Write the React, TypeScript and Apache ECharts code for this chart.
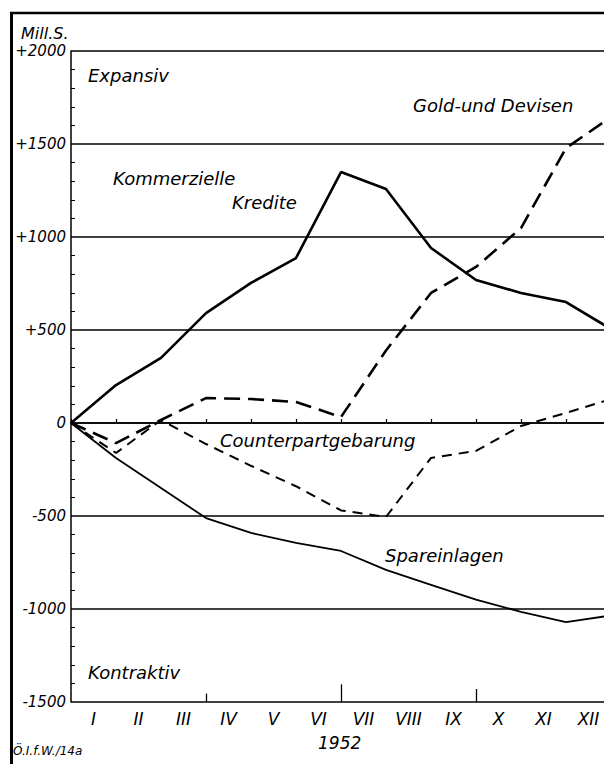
import React, { useEffect, useRef } from "react";
import * as echarts from "echarts";

const monthLabels = ["I", "II", "III", "IV", "V", "VI", "VII", "VIII", "IX", "X", "XI", "XII"];
const monthEnds = [0, 1, 2, 3, 4, 5, 6, 7, 8, 9, 10, 11, 12];
const kommerzielleKredite = [0, 204, 350, 591, 753, 887, 1349, 1258, 941, 769, 699, 650, 505];
const goldUndDevisen = [0, -108, 16, 134, 129, 113, 32, 390, 699, 839, 1048, 1478, 1645];
const counterpart = [0, -161, 16, -113, -230, -340, -470, -505, -188, -150, -16, 54, 129];
const spareinlagen = [0, -188, -350, -511, -591, -645, -688, -790, -870, -950, -1015, -1070, -1035];
const quarterTicks = [3, 6, 9];
const quarterTickHeights = [45, 95, 70];

const FONT = "DejaVu Sans";

function pairs(vals: number[]) {
  return vals.map((v, i) => [monthEnds[i], v]);
}

export default function App() {
  const ref = useRef<HTMLDivElement>(null);
  useEffect(() => {
    document.body.style.margin = "0";
    if (!ref.current) return;
    const chart = echarts.init(ref.current, null, { renderer: "svg" });
    const txt = (text: string, x: number, y: number, size = 18) => ({
      type: "text",
      x,
      y,
      style: {
        text,
        fontSize: size,
        fontFamily: FONT,
        fontStyle: "italic",
        fill: "#000",
        verticalAlign: "top",
        align: "left",
      },
      z: 10,
    });
    const option: any = {
      animation: false,
      backgroundColor: "#fff",
      grid: { left: 71, top: 51, right: 9, bottom: 62 },
      xAxis: [
        {
          type: "category",
          data: monthLabels,
          boundaryGap: true,
          position: "bottom",
          axisLine: { show: true, lineStyle: { color: "#000", width: 1.5 } },
          axisTick: { show: true, inside: true, interval: 0, length: 4, lineStyle: { color: "#000", width: 1.2 } },
          axisLabel: {
            color: "#000",
            fontSize: 17,
            fontFamily: FONT,
            fontStyle: "italic",
            margin: 8,
            interval: 0,
          },
          splitLine: { show: false },
        },
        {
          type: "value",
          min: 0,
          max: 12,
          show: false,
        },
      ],
      yAxis: {
        type: "value",
        min: -1500,
        max: 2000,
        interval: 500,
        axisLine: { show: true, lineStyle: { color: "#000", width: 1.5 } },
        axisTick: { show: false, inside: true },
        minorTick: { show: true, splitNumber: 5, length: 4, lineStyle: { color: "#000", width: 1 } },
        axisLabel: {
          color: "#000",
          fontSize: 15,
          fontFamily: FONT,
          fontStyle: "italic",
          margin: 5,
          formatter: (v: number) => (v > 0 ? "+" + v : String(v)),
        },
        splitLine: { show: true, lineStyle: { color: "#000", width: 1.5 } },
      },
      series: [
        {
          name: "Kommerzielle Kredite",
          type: "line",
          xAxisIndex: 1,
          data: pairs(kommerzielleKredite),
          symbol: "none",
          lineStyle: { color: "#000", width: 2.6, type: "solid" },
          z: 5,
        },
        {
          name: "Gold- und Devisen",
          type: "line",
          xAxisIndex: 1,
          data: pairs(goldUndDevisen),
          symbol: "none",
          lineStyle: { color: "#000", width: 2.6, type: [16, 8] },
          z: 5,
        },
        {
          name: "Counterpartgebarung",
          type: "line",
          xAxisIndex: 1,
          data: pairs(counterpart),
          symbol: "none",
          lineStyle: { color: "#000", width: 2, type: [10, 7] },
          z: 5,
        },
        {
          name: "Spareinlagen",
          type: "line",
          xAxisIndex: 1,
          data: pairs(spareinlagen),
          symbol: "none",
          lineStyle: { color: "#000", width: 1.8, type: "solid" },
          z: 5,
          markLine: {
            silent: true,
            symbol: "none",
            label: { show: false },
            lineStyle: { color: "#000", width: 1.3, type: "solid" },
            data: quarterTicks.map((q, i) => [
              { coord: [q, -1500] },
              { coord: [q, -1500 + quarterTickHeights[i]] },
            ]),
          },
        },
      ],
      graphic: [
        {
          type: "line",
          shape: { x1: 11.5, y1: 12, x2: 11.5, y2: 764 },
          style: { stroke: "#000", lineWidth: 3 },
        },
        {
          type: "line",
          shape: { x1: 10, y1: 13, x2: 620, y2: 13 },
          style: { stroke: "#000", lineWidth: 2.5 },
        },
        txt("Mill.S.", 21, 25, 16),
        txt("Expansiv", 88, 66),
        txt("Kommerzielle", 113, 169),
        txt("Kredite", 232, 193),
        txt("Gold-und Devisen", 413, 96),
        txt("Counterpartgebarung", 220, 431),
        txt("Spareinlagen", 385, 546),
        txt("Kontraktiv", 88, 663),
        txt("1952", 318, 734, 17),
        txt("Ö.I.f.W./14a", 13, 745, 12),
      ],
    };
    chart.setOption(option);
    return () => chart.dispose();
  }, []);
  return (
    <div style={{ width: 604, height: 764, overflow: "hidden", position: "relative", background: "#fff" }}>
      <div ref={ref} style={{ width: 620, height: 764 }} />
    </div>
  );
}
